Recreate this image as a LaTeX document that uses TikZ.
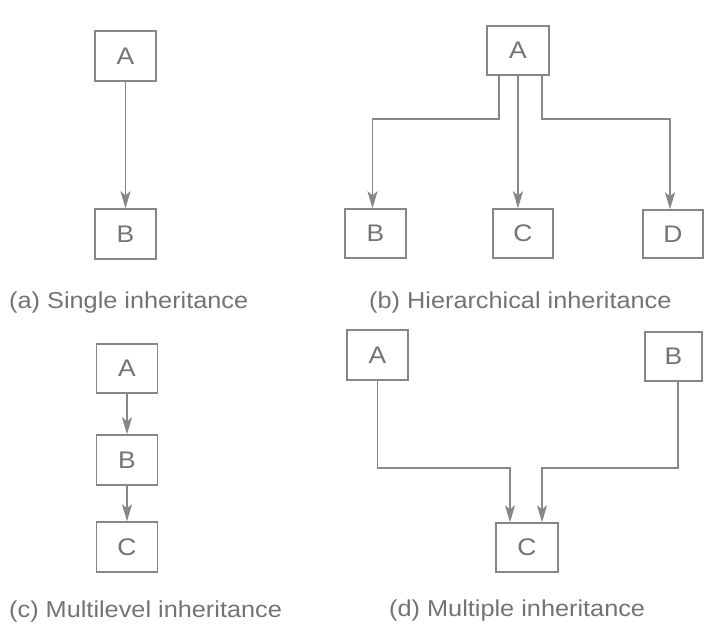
\documentclass[tikz,border=0pt]{standalone}
\usepackage{fontspec}
\setmainfont{Liberation Sans}[FakeStretch=1.1]
\usetikzlibrary{arrows.meta}
\definecolor{ink}{RGB}{115,115,115}
\definecolor{edge}{RGB}{135,135,135}
\tikzset{
  cls/.style={draw=edge, line width=1.4pt, minimum width=61pt, minimum height=50pt, inner sep=0pt, text=ink, font=\fontsize{24}{24}\selectfont},
  arr/.style={draw=edge, line width=1.6pt, -{Stealth[length=17pt,width=10pt,inset=4pt]}},
  captxt/.style={anchor=base west, inner sep=0pt, text=ink, font=\fontsize{23}{23}\selectfont}
}
\begin{document}
\begin{tikzpicture}[x=1pt,y=-1pt]
\useasboundingbox (0,0) rectangle (710,624);
% (a) single
\node[cls] (a1) at (125.5,56) {A};
\node[cls] (b1) at (125.5,234) {B};
\draw[arr] (a1) -- (b1);
\node[captxt] (capa) at (9,308) {(a) Single inheritance};
% (b) hierarchical
\node[cls, minimum width=62pt, minimum height=49pt] (a2) at (518,50.5) {A};
\node[cls, minimum height=49pt] (b2) at (375.5,233.5) {B};
\node[cls, minimum width=60pt, minimum height=49pt] (c2) at (523,233.5) {C};
\node[cls, minimum width=60pt, minimum height=48pt] (d2) at (673,234) {D};
\coordinate (bl) at ([xshift=-19pt]a2.south);
\coordinate (br) at ([xshift=24pt]a2.south);
\draw[arr] (bl) -- (bl |- 0,119) -- ([xshift=-3pt]b2.north |- 0,119) -- ([xshift=-3pt]b2.north);
\draw[arr] (a2.south) -- (a2.south |- c2.north);
\draw[arr] (br) -- (br |- 0,119) -- ([xshift=-3pt]d2.north |- 0,119) -- ([xshift=-3pt]d2.north);
\node[captxt] (capb) at (369,308) {(b) Hierarchical inheritance};
% (c) multilevel
\node[cls, minimum height=49pt] (a3) at (127,368.5) {A};
\node[cls] (b3) at (127,460) {B};
\node[cls] (c3) at (127,547) {C};
\draw[arr] (a3) -- (b3);
\draw[arr] (b3) -- (c3);
\node[captxt] (capc) at (9,617) {(c) Multilevel inheritance};
% (d) multiple
\node[cls] (a4) at (377.5,355) {A};
\node[cls, minimum width=57pt, minimum height=49pt] (b4) at (673.5,356.5) {B};
\node[cls, minimum width=62pt, minimum height=49pt] (c4) at (527,547.5) {C};
\coordinate (cl) at ([xshift=-17pt]c4.north);
\coordinate (cr) at ([xshift=15pt]c4.north);
\draw[arr] (a4.south) -- (a4.south |- 0,468) -- (cl |- 0,468) -- (cl);
\draw[arr] ([xshift=4.5pt]b4.south) -- ([xshift=4.5pt]b4.south |- 0,468) -- (cr |- 0,468) -- (cr);
\node[captxt] (capd) at (389,616) {(d) Multiple inheritance};
\end{tikzpicture}
\end{document}
